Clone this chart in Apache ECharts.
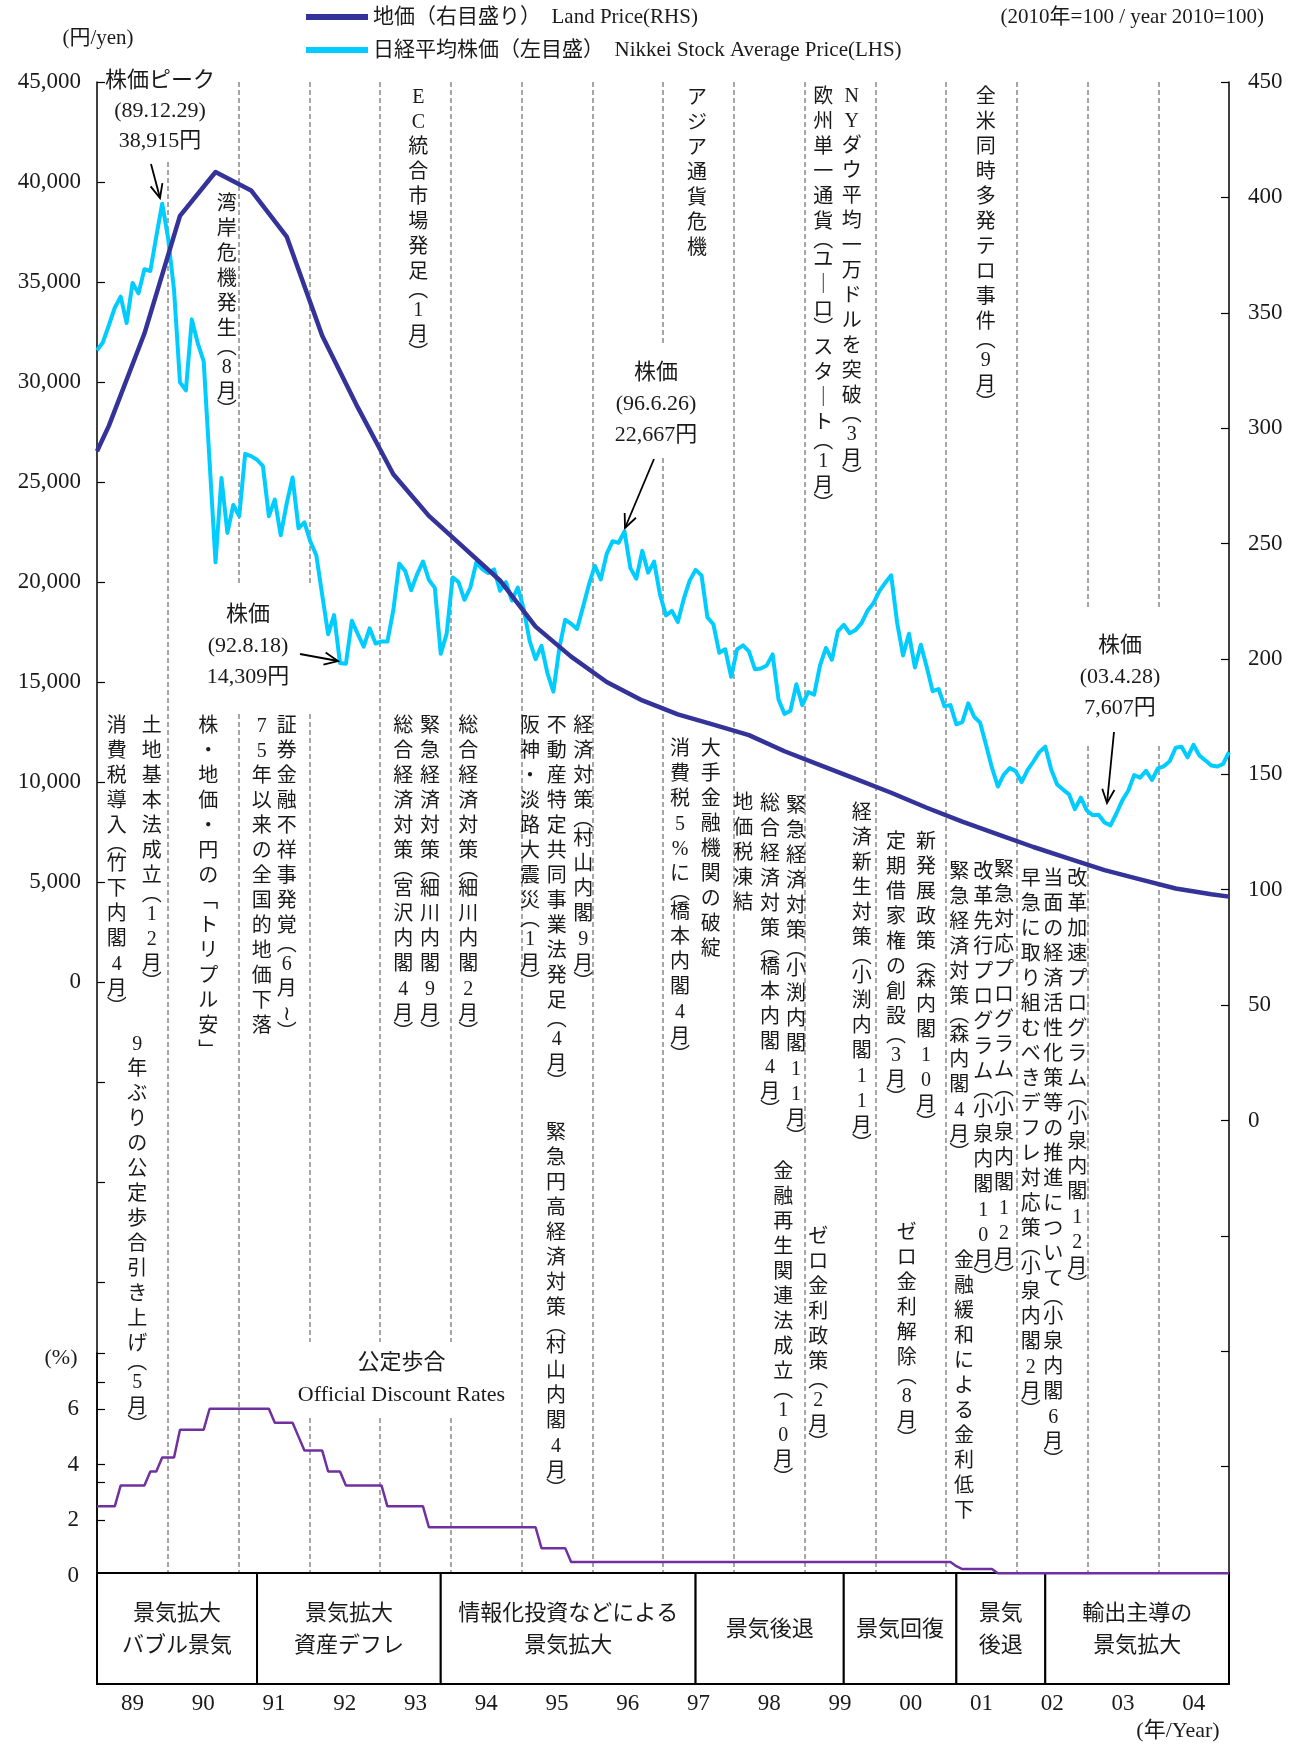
<!DOCTYPE html>
<html lang="ja">
<head>
<meta charset="utf-8">
<title>地価・株価・公定歩合の推移</title>
<script src="https://cdn.jsdelivr.net/npm/echarts@6.0.0/dist/echarts.min.js"></script>
<style>
  html, body { margin: 0; padding: 0; background: #fff; }
  #chart { width: 1291px; height: 1744px; }
</style>
</head>
<body>
<div id="chart"></div>
<script>
// ---------- data ----------
const yearLabels = ['89', '90', '91', '92', '93', '94', '95', '96', '97', '98', '99', '00', '01', '02', '03', '04']

// monthly categories, Jan 1989 .. Dec 2004
const months = []
for (let y = 1989; y <= 2004; y++) {
  for (let m = 1; m <= 12; m++) months.push(y + '/' + m)
}

// Nikkei stock average, month-end (yen)
const nikkei = [
  31581, 31986, 32839, 33713, 34267, 32949, 34954, 34431, 35637, 35549, 37269, 38916,
  37189, 34592, 29980, 29585, 33131, 31940, 31036, 25978, 20984, 25194, 22455, 23849,
  23293, 26409, 26292, 26112, 25790, 23291, 24121, 22336, 23917, 25222, 22687, 22984,
  22023, 21339, 19346, 17391, 18348, 15952, 15910, 18061, 17399, 16767, 17684, 16925,
  17024, 17023, 18591, 20919, 20552, 19591, 20380, 21027, 20106, 19703, 16408, 17417,
  20229, 19997, 19112, 19725, 20974, 20644, 20449, 20629, 19564, 19990, 19076, 19723,
  18650, 17053, 16140, 16807, 15437, 14517, 16678, 18117, 17913, 17655, 18744, 19868,
  20813, 20125, 21407, 22041, 21956, 22531, 20693, 20167, 21556, 20467, 21020, 19361,
  18330, 18557, 18003, 19151, 20069, 20605, 20331, 18229, 17888, 16459, 16636, 15259,
  16628, 16831, 16527, 15641, 15671, 15830, 16379, 14108, 13406, 13565, 14884, 13842,
  14500, 14368, 15837, 16702, 16112, 17530, 17862, 17437, 17605, 17942, 18558, 18934,
  19540, 19960, 20337, 17974, 16332, 17411, 15727, 16861, 15747, 14540, 14649, 13786,
  13844, 12884, 12999, 13934, 13262, 12969, 11861, 10714, 9775, 10366, 10697, 10543,
  9998, 10588, 11025, 11493, 11764, 10622, 9878, 9620, 9383, 8641, 9216, 8579,
  8340, 8363, 7973, 7831, 8425, 9083, 9563, 10344, 10219, 10560, 10101, 10677,
  10784, 11042, 11715, 11762, 11236, 11859, 11326, 11082, 10824, 10771, 10899, 11489
]

// land price index (2010=100), semi-annual readings, placed on the month axis
const landIdx = [0, 2, 8, 14, 20, 26, 32, 38, 44, 50, 56, 62, 68, 74, 80, 86, 92, 98, 104, 110,
  116, 122, 128, 134, 140, 146, 152, 158, 164, 170, 176, 182, 188, 191]
const landVal = [290, 301, 341, 392, 411, 403, 383, 340, 309, 280, 262, 248, 234, 214, 201, 190, 182, 176, 171.5, 167,
  160, 154, 148, 142, 135.5, 129.5, 124, 118.5, 113.5, 108.5, 104.5, 100.5, 98, 97]

// official discount rate (%), month-end
const discountRate = [
  2.5, 2.5, 2.5, 2.5, 3.25, 3.25, 3.25, 3.25, 3.25, 3.75, 3.75, 4.25,
  4.25, 4.25, 5.25, 5.25, 5.25, 5.25, 5.25, 6, 6, 6, 6, 6,
  6, 6, 6, 6, 6, 6, 5.5, 5.5, 5.5, 5.5, 5, 4.5,
  4.5, 4.5, 4.5, 3.75, 3.75, 3.75, 3.25, 3.25, 3.25, 3.25, 3.25, 3.25,
  3.25, 2.5, 2.5, 2.5, 2.5, 2.5, 2.5, 2.5, 1.75, 1.75, 1.75, 1.75,
  1.75, 1.75, 1.75, 1.75, 1.75, 1.75, 1.75, 1.75, 1.75, 1.75, 1.75, 1.75,
  1.75, 1.75, 1.75, 1, 1, 1, 1, 1, 0.5, 0.5, 0.5, 0.5,
  0.5, 0.5, 0.5, 0.5, 0.5, 0.5, 0.5, 0.5, 0.5, 0.5, 0.5, 0.5,
  0.5, 0.5, 0.5, 0.5, 0.5, 0.5, 0.5, 0.5, 0.5, 0.5, 0.5, 0.5,
  0.5, 0.5, 0.5, 0.5, 0.5, 0.5, 0.5, 0.5, 0.5, 0.5, 0.5, 0.5,
  0.5, 0.5, 0.5, 0.5, 0.5, 0.5, 0.5, 0.5, 0.5, 0.5, 0.5, 0.5,
  0.5, 0.5, 0.5, 0.5, 0.5, 0.5, 0.5, 0.5, 0.5, 0.5, 0.5, 0.5,
  0.5, 0.35, 0.25, 0.25, 0.25, 0.25, 0.25, 0.25, 0.1, 0.1, 0.1, 0.1,
  0.1, 0.1, 0.1, 0.1, 0.1, 0.1, 0.1, 0.1, 0.1, 0.1, 0.1, 0.1,
  0.1, 0.1, 0.1, 0.1, 0.1, 0.1, 0.1, 0.1, 0.1, 0.1, 0.1, 0.1,
  0.1, 0.1, 0.1, 0.1, 0.1, 0.1, 0.1, 0.1, 0.1, 0.1, 0.1, 0.1
]

// business cycle phases (boundaries as month index)
const cycleEdges = [0, 27, 58, 101, 126, 145, 160, 191]
const cycleNames = ['景気拡大\nバブル景気', '景気拡大\n資産デフレ', '情報化投資などによる\n景気拡大',
  '景気後退', '景気回復', '景気\n後退', '輸出主導の\n景気拡大']

// vertical notes: [x, centre of first char, text]
const notesTop = [
  [226.7, 205, '湾岸危機発生(8月)'],
  [418.3, 98, 'EC統合市場発足(1月)'],
  [697, 99, 'アジア通貨危機'],
  [823.3, 98, '欧州単一通貨(ユーロ)スタート(1月)'],
  [851.7, 97, 'NYダウ平均一万ドルを突破(3月)'],
  [985.7, 98, '全米同時多発テロ事件(9月)']
]
const notesBottom = [
  [116.7, 727, '消費税導入(竹下内閣4月)'],
  [151.7, 727, '土地基本法成立(12月)'],
  [137.3, 1045, '9年ぶりの公定歩合引き上げ(5月)'],
  [208.3, 727, '株・地価・円の「トリプル安」'],
  [261.7, 727, '75年以来の全国的地価下落'],
  [286.7, 727, '証券金融不祥事発覚(6月〜)'],
  [403.3, 727, '総合経済対策(宮沢内閣4月)'],
  [430, 727, '緊急経済対策(細川内閣9月)'],
  [468.3, 727, '総合経済対策(細川内閣2月)'],
  [530, 727, '阪神・淡路大震災(1月)'],
  [556.7, 727, '不動産特定共同事業法発足(4月)'],
  [583.3, 727, '経済対策(村山内閣9月)'],
  [556, 1134, '緊急円高経済対策(村山内閣4月)'],
  [680, 750, '消費税5%に(橋本内閣4月)'],
  [710.7, 750, '大手金融機関の破綻'],
  [743.3, 804, '地価税凍結'],
  [770, 805, '総合経済対策(橋本内閣4月)'],
  [796, 807, '緊急経済対策(小渕内閣11月)'],
  [783.3, 1173, '金融再生関連法成立(10月)'],
  [818.3, 1238, 'ゼロ金利政策(2月)'],
  [861.7, 814, '経済新生対策(小渕内閣11月)'],
  [896, 843, '定期借家権の創設(3月)'],
  [926, 843, '新発展政策(森内閣10月)'],
  [906.7, 1234, 'ゼロ金利解除(8月)'],
  [959.3, 873, '緊急経済対策(森内閣4月)'],
  [983.3, 873, '改革先行プログラム(小泉内閣10月)'],
  [1004, 871, '緊急対応プログラム(小泉内閣12月)'],
  [964, 1262, '金融緩和による金利低下'],
  [1030.7, 880, '早急に取り組むべきデフレ対応策(小泉内閣2月)'],
  [1053.3, 880, '当面の経済活性化策等の推進について(小泉内閣6月)'],
  [1077.3, 880, '改革加速プログラム(小泉内閣12月)']
]

// ---------- style ----------
const FONT = "'Liberation Serif', 'Noto Sans CJK JP', serif"
const INK = '#1a1a1a'
const LAND = '#333399'
const STOCK = '#00ccff'
const RATE = '#7030a0'
const LAND_NAME = '地価（右目盛り）  Land Price(RHS)'
const NIKKEI_NAME = '日経平均株価（左目盛）  Nikkei Stock Average Price(LHS)'

const axisBase = {
  axisLine: { show: true, lineStyle: { color: '#000', width: 1.5 } },
  axisTick: { show: true, inside: true, length: 8, lineStyle: { color: '#000', width: 1.2 } },
  splitLine: { show: false }
}

const chart = echarts.init(document.getElementById('chart'), null, { renderer: 'canvas' })

chart.setOption({
  animation: false,
  backgroundColor: '#fff',
  textStyle: { fontFamily: FONT, color: INK },
  legend: {
    orient: 'vertical',
    left: 306,
    top: 5,
    padding: 0,
    itemWidth: 62,
    itemHeight: 6,
    itemGap: 9,
    icon: 'rect',
    selectedMode: false,
    textStyle: { fontSize: 21, lineHeight: 24, color: INK, fontFamily: FONT },
    data: [LAND_NAME, NIKKEI_NAME]
  },
  grid: [
    { left: 97, right: 62, top: 82, height: 1500, outerBoundsMode: 'none' },
    { left: 97, right: 62, top: 1353, height: 223, outerBoundsMode: 'none' }
  ],
  xAxis: [
    { gridIndex: 0, type: 'category', data: months, boundaryGap: false, show: false, position: 'top' },
    {
      gridIndex: 0,
      type: 'category',
      data: yearLabels,
      boundaryGap: true,
      position: 'bottom',
      axisLine: { show: false },
      axisTick: { show: false },
      axisLabel: { interval: 0, margin: 110, fontSize: 23, color: INK },
      splitLine: {
        show: true,
        interval: 0,
        showMinLine: false,
        showMaxLine: false,
        lineStyle: { color: '#a6a6a6', width: 2, type: [5, 3] }
      }
    },
    { gridIndex: 1, type: 'category', data: months, boundaryGap: false, show: false }
  ],
  yAxis: [
    {
      ...axisBase,
      gridIndex: 0,
      type: 'value',
      position: 'left',
      min: -30000,
      max: 45000,
      interval: 5000,
      axisLabel: {
        fontSize: 23, margin: 16, color: INK,
        formatter: v => v < 0 ? '' : v.toLocaleString('en-US')
      }
    },
    {
      ...axisBase,
      gridIndex: 0,
      type: 'value',
      position: 'right',
      min: -200,
      max: 450,
      interval: 50,
      axisLabel: {
        fontSize: 23, margin: 19, color: INK,
        formatter: v => v < 0 ? '' : String(v)
      }
    },
    {
      ...axisBase,
      gridIndex: 1,
      type: 'value',
      position: 'left',
      min: 0,
      max: 8,
      interval: 2,
      axisLabel: {
        fontSize: 23, margin: 18, color: INK,
        formatter: v => v === 8 ? '' : String(v)
      }
    }
  ],
  series: [
    {
      name: NIKKEI_NAME,
      type: 'line',
      xAxisIndex: 0,
      yAxisIndex: 0,
      data: nikkei,
      showSymbol: false,
      itemStyle: { color: STOCK },
      lineStyle: { color: STOCK, width: 4, join: 'round' },
      z: 3
    },
    {
      name: LAND_NAME,
      type: 'line',
      xAxisIndex: 0,
      yAxisIndex: 1,
      data: landIdx.map((i, k) => [i, landVal[k]]),
      showSymbol: false,
      itemStyle: { color: LAND },
      lineStyle: { color: LAND, width: 4.5, join: 'round' },
      z: 4
    },
    {
      name: '公定歩合',
      type: 'line',
      xAxisIndex: 2,
      yAxisIndex: 2,
      data: discountRate,
      showSymbol: false,
      itemStyle: { color: RATE },
      lineStyle: { color: RATE, width: 2.5 },
      z: 3
    }
  ]
})

// ---------- annotations ----------
const VFORM = { '(': '︵', ')': '︶', 'ー': '｜', '「': '﹁', '」': '﹂', '〜': '≀' }

function vcol (x, yFirst, s) {
  const kids = []
  let y = yFirst
  let prev = 0
  for (const c of Array.from(s)) {
    const slot = (c === '(' || c === ')') ? 13 : 25
    if (prev) y += prev / 2 + slot / 2
    prev = slot
    kids.push({
      type: 'text', x, y, z: 10, silent: true,
      style: { text: VFORM[c] || c, fontSize: 20, fontFamily: FONT, fill: INK, align: 'center', verticalAlign: 'middle' }
    })
  }
  return { type: 'group', children: kids }
}

function htext (x, y, text, size, lh) {
  return {
    type: 'text', x, y, z: 10, silent: true,
    style: { text, fontSize: size, lineHeight: lh, fontFamily: FONT, fill: INK, align: 'center', verticalAlign: 'middle' }
  }
}

function arrow (x1, y1, x2, y2) {
  const a = Math.atan2(y2 - y1, x2 - x1)
  const h = 15, w = 0.42
  const p1 = [x2 - h * Math.cos(a - w), y2 - h * Math.sin(a - w)]
  const p2 = [x2 - h * Math.cos(a + w), y2 - h * Math.sin(a + w)]
  return {
    type: 'group',
    children: [
      { type: 'line', z: 10, shape: { x1, y1, x2, y2 }, style: { stroke: '#000', lineWidth: 1.8 } },
      { type: 'polyline', z: 10, shape: { points: [p1, [x2, y2], p2] }, style: { stroke: '#000', lineWidth: 1.8, fill: null } }
    ]
  }
}

function blank (x, y, w, h) {
  return { type: 'rect', z: 1, silent: true, shape: { x, y, width: w, height: h }, style: { fill: '#fff' } }
}

const els = []

// white boxes behind call-outs (cut the dashed year lines)
els.push(blank(108, 80, 104, 82))
els.push(blank(200, 586, 118, 126))
els.push(blank(606, 345, 100, 113))
els.push(blank(1070, 607, 100, 138))
els.push(blank(289, 1342, 226, 73))

// business cycle boxes, placed on the rate chart's month axis
const yBase = chart.convertToPixel({ yAxisIndex: 2 }, 0)
for (let k = 0; k < cycleNames.length; k++) {
  const xa = chart.convertToPixel({ xAxisIndex: 2 }, cycleEdges[k])
  const xb = chart.convertToPixel({ xAxisIndex: 2 }, cycleEdges[k + 1])
  els.push({
    type: 'rect', z: 1, silent: true,
    shape: { x: xa, y: yBase - 3, width: xb - xa, height: 111 },
    style: { fill: '#fff', stroke: '#000', lineWidth: 2 }
  })
  els.push(htext((xa + xb) / 2, yBase + 54, cycleNames[k], 22, 32))
}

// headers
els.push(htext(98, 38, '(円/yen)', 21, 24))
els.push({
  type: 'text', x: 1264, y: 17, z: 10, silent: true,
  style: { text: '(2010年=100 / year 2010=100)', fontSize: 21, fontFamily: FONT, fill: INK, align: 'right', verticalAlign: 'middle' }
})
els.push(htext(61, 1358, '(%)', 22, 24))
els.push(htext(401.5, 1363, '公定歩合', 22, 26))
els.push(htext(401.5, 1395, 'Official Discount Rates', 22, 26))
els.push(htext(1178, 1731, '(年/Year)', 22, 24))

// stock price call-outs
els.push(htext(160, 111, '株価ピーク\n(89.12.29)\n38,915円', 22, 30))
els.push(arrow(151, 164, 160, 198))
els.push(htext(248, 646, '株価\n(92.8.18)\n14,309円', 22, 31))
els.push(arrow(300, 654, 338, 661))
els.push(htext(656, 404, '株価\n(96.6.26)\n22,667円', 22, 31))
els.push(arrow(654, 459, 625, 528))
els.push(htext(1120, 677, '株価\n(03.4.28)\n7,607円', 22, 31))
els.push(arrow(1114, 732, 1107, 803))

// vertical event notes
notesTop.concat(notesBottom).forEach(([x, y, s]) => els.push(vcol(x, y, s)))

chart.setOption({ graphic: { elements: els } })
</script>
</body>
</html>
